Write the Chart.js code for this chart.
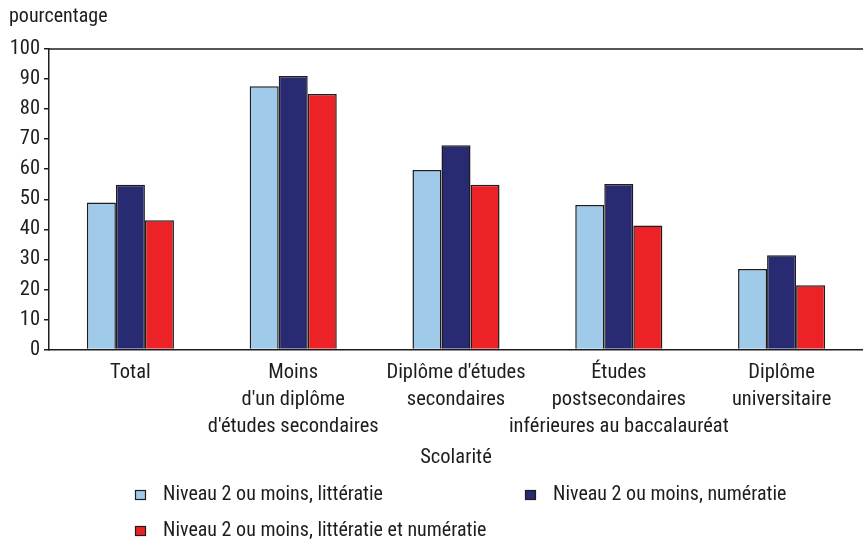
<!DOCTYPE html>
<html>
<head>
<meta charset="utf-8">
<script src="https://cdn.jsdelivr.net/npm/chart.js@4"></script>
<style>
  body { margin: 0; background: #fff; }
  #wrap { width: 863px; height: 539px; }
</style>
</head>
<body>
<div id="wrap"><canvas id="myChart" width="863" height="539"></canvas></div>
<script>
const categories = [
  "Total",
  ["Moins", "d'un diplôme", "d'études secondaires"],
  ["Diplôme d'études", "secondaires"],
  ["Études", "postsecondaires", "inférieures au baccalauréat"],
  ["Diplôme", "universitaire"],
];
const seriesNames = [
  "Niveau 2 ou moins, littératie",
  "Niveau 2 ou moins, numératie",
  "Niveau 2 ou moins, littératie et numératie",
];
const litteratie = [48.9, 87.6, 59.7, 48.1, 26.8];
const numeratie = [54.8, 91.0, 68.0, 55.1, 31.4];
const lettNum = [43.0, 85.0, 54.8, 41.3, 21.4];
const yTicks = [0, 10, 20, 30, 40, 50, 60, 70, 80, 90, 100];

const FONT = "'Roboto Condensed', 'Liberation Sans', sans-serif";
const INK = "#1e1c1d";
const colors = ["#a0caea", "#282a72", "#ec2227"];

Chart.defaults.font.family = FONT;
Chart.defaults.font.size = 20.5;
Chart.defaults.font.lineHeight = 1.22;
Chart.defaults.color = INK;

// top frame line + hand placed legend
const extras = {
  id: "extras",
  afterDraw(chart) {
    const ctx = chart.ctx;
    const a = chart.chartArea;
    ctx.save();
    ctx.strokeStyle = INK;
    ctx.lineWidth = 1.5;
    ctx.beginPath();
    ctx.moveTo(a.left - 1, a.top);
    ctx.lineTo(a.right, a.top);
    ctx.stroke();

    const spots = [[135, 495], [525, 495], [135, 531]];
    ctx.font = "20px " + FONT;
    ctx.textBaseline = "middle";
    ctx.textAlign = "left";
    chart.data.datasets.forEach((ds, i) => {
      const [x, y] = spots[i];
      ctx.fillStyle = ds.backgroundColor;
      ctx.fillRect(x, y - 5, 11, 10);
      ctx.lineWidth = 1.2;
      ctx.strokeStyle = INK;
      ctx.strokeRect(x + 0.5, y - 4.5, 10, 9);
      ctx.fillStyle = INK;
      ctx.fillText(ds.label, x + 28, y);
    });
    ctx.restore();
  },
};

const data = {
  labels: categories,
  datasets: [litteratie, numeratie, lettNum].map((vals, i) => ({
    label: seriesNames[i],
    data: vals,
    backgroundColor: colors[i],
    borderColor: INK,
    borderWidth: 1.5,
    borderSkipped: "bottom",
    categoryPercentage: 0.535,
    barPercentage: 1,
  })),
};

const config = {
  type: "bar",
  data: data,
  options: {
    responsive: false,
    animation: false,
    layout: { padding: { left: 9, right: 0, top: 0, bottom: 68.5 } },
    plugins: {
      legend: { display: false },
      tooltip: { enabled: false },
      title: {
        display: true,
        text: "pourcentage",
        align: "start",
        color: INK,
        font: { size: 20, weight: "normal", lineHeight: 1.25 },
        padding: { top: 4.5, bottom: 19.5 },
      },
    },
    scales: {
      x: {
        offset: true,
        grid: { display: false },
        border: { display: true, color: INK, width: 1.5 },
        ticks: {
          autoSkip: false,
          maxRotation: 0,
          padding: 1.5,
          color: INK,
          font: { size: 20.5, lineHeight: 1.317 },
        },
        title: { display: true, text: "Scolarité", color: INK, padding: { top: 0, bottom: 0 } },
        afterFit(scale) { scale.height = 539 - 68.5 - 349.5; },
      },
      y: {
        min: 0,
        max: 100,
        afterBuildTicks(scale) { scale.ticks = yTicks.map(v => ({ value: v })); },
        grid: { drawOnChartArea: false, drawTicks: true, tickLength: 5, color: INK, lineWidth: 1.5 },
        border: { display: true, color: INK, width: 1.5 },
        ticks: { padding: 4, color: INK },
        afterFit(scale) { scale.width = 40; },
      },
    },
  },
  plugins: [extras],
};

let myChart = new Chart(document.getElementById("myChart"), config);
</script>
</body>
</html>
